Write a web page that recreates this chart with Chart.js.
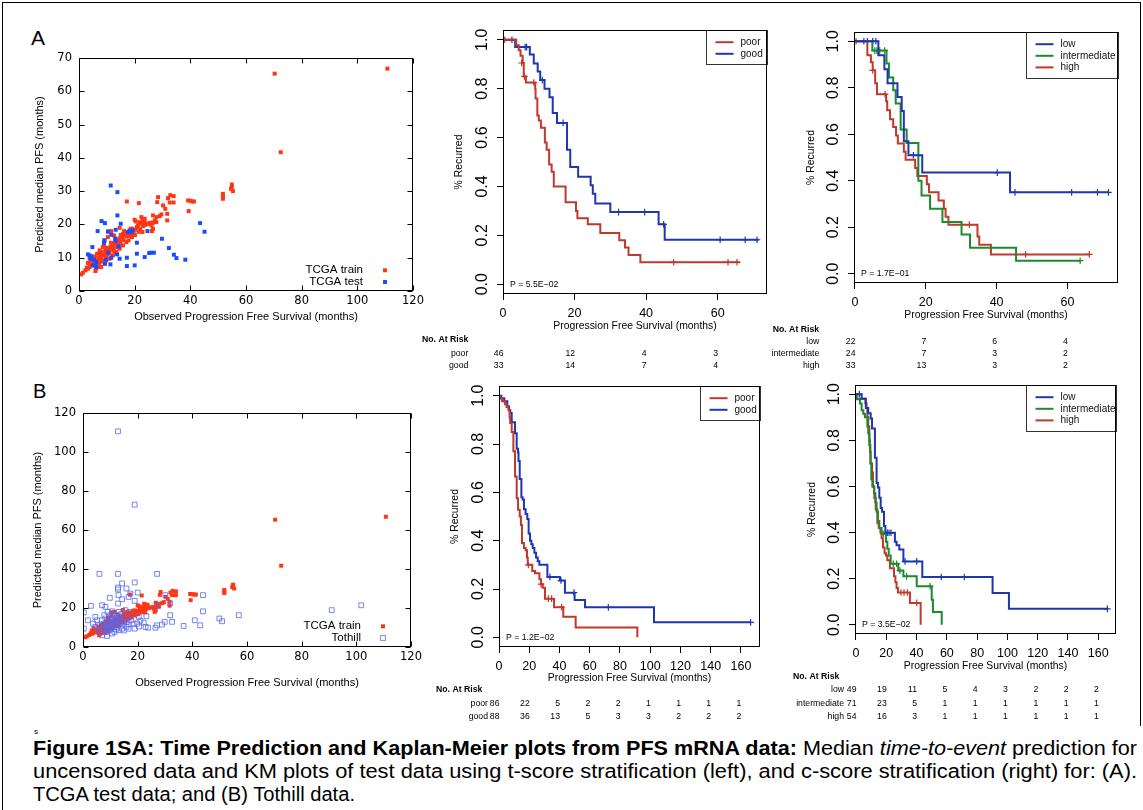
<!DOCTYPE html>
<html><head><meta charset="utf-8">
<script src="https://cdn.jsdelivr.net/npm/chart.js@4.4.1/dist/chart.umd.min.js"></script>
<style>
html,body{margin:0;padding:0;background:#fff;}
body{width:1143px;height:810px;position:relative;overflow:hidden;font-family:"Liberation Sans",Arial,sans-serif;}
canvas{position:absolute;}
.lbl{position:absolute;color:#000;white-space:nowrap;}
.cap{position:absolute;left:33px;white-space:nowrap;font-size:20px;line-height:23px;transform-origin:0 0;color:#000;display:inline-block;}
.ln{position:absolute;background:#000;}
</style></head><body>
<div class="ln" style="left:2px;top:2px;width:1139px;height:1px"></div>
<div class="ln" style="left:2px;top:2px;width:1px;height:808px"></div>
<div class="ln" style="left:1140px;top:2px;width:1px;height:724px"></div>
<div class="lbl" style="left:31px;top:27px;font-size:21px;line-height:21px">A</div>
<div class="lbl" style="left:33px;top:381px;font-size:20px;line-height:20px">B</div>
<div class="lbl" style="left:34px;top:727px;font-size:8px;line-height:9px">s</div>
<div class="cap" id="cap1" style="top:737px"><b>Figure 1SA: Time Prediction and Kaplan-Meier plots from PFS mRNA data:</b> Median <i>time-to-event</i> prediction for</div>
<div class="cap" id="cap2" style="top:760px">uncensored data and KM plots of test data using t-score stratification (left), and c-score stratification (right) for: (A).</div>
<div class="cap" id="cap3" style="top:783px">TCGA test data; and (B) Tothill data.</div>
<script>
// ================= DATA =================
// Scatter: TCGA train (observed PFS, predicted median PFS)
const trainObs = [70.3,110.8,72.5,54.9,54.9,54.6,55.3,51.7,51.7,51.7,39.2,40.0,40.7,41.3,39.4,34.0,32.8,34.0,32.6,32.0,31.7,31.7,31.0,30.2,28.4,28.1,17.2,21.5,29.0,29.6,27.8,26.6,27.2,26.6,26.0,26.6,26.2,27.8,24.8,23.6,22.9,22.4,23.6,20.0,20.4,21.8,22.7,21.2,
0.8,1.4,2.3,3.2,3.8,4.4,5.0,5.6,6.0,6.5,6.8,7.4,8.0,7.4,8.6,9.2,9.6,10.1,10.4,11.0,11.3,12.0,12.2,12.8,13.2,13.7,14.0,14.6,14.9,15.6,15.8,16.4,16.8,17.2,17.6,18.2,18.8,19.2,19.6,20.4,20.8,14.6,11.6,12.6,10.4,9.2,8.6,7.4,6.5,5.6,3.8,4.4,3.2,6.2,8.0,9.2,9.8,11.0,12.2,13.4,14.6,15.8,17.0,12.5,13.4,10.9,9.6,8.4,7.2,5.9,5.3,6.9,8.2,9.9,11.5,13.0,15.0,16.2,18.0,19.0,20.1,21.5,22.0,23.0,24.0,25.5,10.5,9.0,4.8,2.8,7.8,10.0,12.8,14.2,16.0,18.5,17.8,22.8];
const trainPred = [65.3,66.8,41.7,32.0,31.2,30.7,30.0,29.2,28.4,27.7,27.2,27.1,26.9,26.9,24.0,28.5,28.8,26.6,26.6,27.9,21.2,23.2,24.7,25.7,28.2,26.7,26.9,26.4,22.5,23.0,22.2,22.7,21.2,20.5,19.7,18.7,18.0,20.7,20.2,20.7,21.2,22.2,21.7,21.4,20.9,20.7,20.2,19.7,
5.0,5.5,6.2,6.7,7.2,7.7,8.2,7.7,8.7,9.2,7.2,9.7,10.2,11.2,10.7,11.2,12.2,11.7,12.7,12.2,13.2,13.7,12.7,14.2,14.7,13.7,15.2,15.7,14.7,16.2,17.2,16.7,17.7,16.4,17.2,18.2,17.2,18.7,17.7,18.4,19.2,19.0,18.0,16.7,16.2,15.2,13.2,12.2,11.2,10.4,9.7,9.0,8.4,6.7,7.2,8.2,9.2,9.7,10.7,11.7,12.7,13.7,14.7,12.2,13.2,11.2,10.2,9.2,8.4,6.0,9.0,10.0,11.8,13.0,14.5,15.8,16.8,18.0,16.6,16.2,16.8,17.8,18.6,19.5,19.9,20.5,17.8,14.0,8.4,7.0,8.8,10.8,11.2,14.0,15.3,18.7,15.2,17.7];
// Scatter: TCGA test
const testObs = [11.4,13.8,13.8,8.1,9.3,15.0,6.7,10.4,13.2,11.6,18.2,19.2,18.8,17.6,24.6,20.8,13.1,13.1,9.1,9.0,4.8,14.3,3.2,3.8,4.4,10.4,13.7,14.6,11.6,5.4,5.9,6.2,9.3,9.6,11.3,17.2,17.2,20.0,20.8,23.6,25.2,25.7,26.9,29.8,32.3,34.1,35.0,38.2,43.5,45.1,4.2,5.0,6.2];
const testPred = [31.7,29.7,22.7,21.0,20.4,20.2,18.0,17.9,18.4,16.9,18.0,18.2,17.7,17.7,18.0,14.5,15.7,15.0,15.2,14.5,13.2,13.4,11.0,10.7,10.4,11.5,11.0,9.7,10.0,9.4,7.7,7.2,8.2,9.4,8.0,10.0,7.5,7.7,11.2,10.2,11.4,11.5,11.5,15.7,12.9,10.9,9.9,9.4,20.4,17.8,9.7,7.7,8.7];
// Scatter: Tothill
const tothillObs = [12.8,18.9,6.0,12.8,27.1,18.9,12.8,12.8,15.9,14.3,20.0,17.3,13.0,16.7,9.8,14.3,18.9,2.9,7.0,8.2,12.8,10.6,0.3,1.8,4.5,3.7,0.3,4.5,6.0,7.6,7.0,9.0,10.2,11.5,14.3,16.7,18.9,19.8,20.4,22.2,23.2,22.9,23.8,26.5,27.1,28.9,27.1,30.1,31.9,31.9,36.8,40.9,42.9,43.9,43.9,49.9,50.9,57.0,91.0,101.8,29.9,32.6,13.7,15.5,17.3,8.2,9.0,10.0,11.5,12.4,15.9,17.7,18.5,7.0,5.7,8.5,9.4,10.6,7.8,11.2,12.4,12.4,13.7,14.9,15.9,16.7,5.1,6.3,9.4,8.8,10.6,13.0,9.5,10.5,11.0,12.0,13.5,14.5,10.0,8.0,9.0,11.8,12.5,14.0,10.8,9.8,7.5,13.0,16.0,15.0,20.5,21.0];
const tothillPred = [110.6,73.0,37.5,37.5,37.5,33.1,30.5,29.5,30.0,32.6,27.9,27.4,26.6,25.7,25.2,24.5,23.7,21.1,21.4,20.6,22.3,18.3,17.7,13.7,15.4,12.0,9.4,10.3,11.5,9.4,6.0,7.7,9.9,7.7,9.4,9.4,9.4,12.0,15.4,12.5,15.8,10.3,9.9,9.9,11.1,11.5,21.1,26.6,16.3,22.3,10.8,13.7,11.1,26.6,18.3,14.6,13.2,16.3,18.9,21.4,12.9,12.9,12.0,18.9,18.0,14.6,18.0,16.3,13.7,11.1,14.6,13.7,12.0,13.7,7.7,12.0,12.9,12.0,16.3,16.3,16.3,14.6,15.4,12.9,10.3,11.5,13.7,9.1,8.6,5.7,6.9,8.6,10.5,11.0,14.5,9.0,13.5,11.5,13.0,10.0,11.5,12.5,10.0,16.8,15.0,9.0,11.0,18.0,13.0,8.5,10.5,13.5];

// KM A, t-score: poor / good (time in months, survival after step)
const kmAPoorT = [0,3.7,4.4,4.9,5.5,5.8,6.4,9.0,9.1,9.6,10.0,10.6,11.7,12.2,12.9,13.6,14.2,17.5,20.4,20.8,23.7,27.2,32.5,34.1,35.1,38.4,66.3];
const kmAPoorS = [1,0.978,0.957,0.935,0.905,0.85,0.825,0.80,0.76,0.69,0.67,0.64,0.58,0.55,0.49,0.46,0.40,0.335,0.30,0.27,0.245,0.21,0.18,0.15,0.12,0.09,0.09];
const kmAPoorCT = [0.5,5.2,6.0,8.6,47.7,62.9,65.4];
const kmAPoorCS = [1,0.905,0.85,0.825,0.09,0.09,0.09];
const kmAGoodT = [0,3.4,7.5,8.6,9.7,10.4,11.6,13.0,13.9,15.1,17.9,18.8,21.0,24.5,25.1,25.8,30.0,43.5,45.2,71.5];
const kmAGoodS = [1,0.97,0.94,0.903,0.87,0.835,0.80,0.765,0.70,0.66,0.55,0.48,0.44,0.405,0.37,0.33,0.295,0.245,0.182,0.182];
const kmAGoodCT = [2.5,6.2,6.6,11.0,16.8,32.3,39.6,44.9,60.7,67.7,71.0];
const kmAGoodCS = [1,0.97,0.97,0.835,0.66,0.295,0.295,0.245,0.182,0.182,0.182];
// KM A, c-score: low / intermediate / high
const kmALowT = [0,6.6,8.3,9.2,12.0,13.2,13.8,15.1,19.0,43.8,71.6];
const kmALowS = [1,0.94,0.88,0.82,0.76,0.70,0.57,0.51,0.435,0.35,0.35];
const kmALowCT = [2.5,3.5,5.0,5.9,16.5,40.2,45.2,61.2,68.5,71.6];
const kmALowCS = [1,1,1,1,0.51,0.435,0.35,0.35,0.35,0.35];
const kmAIntT = [0,4.9,8.9,9.6,10.8,11.5,12.9,14.6,17.9,18.8,21.2,24.7,30.1,32.5,45.5,63.8];
const kmAIntS = [1,0.96,0.904,0.844,0.789,0.732,0.62,0.562,0.40,0.337,0.28,0.222,0.169,0.112,0.056,0.056];
const kmAIntCT = [5.6,6.2,7.0,8.4,63.6];
const kmAIntCS = [0.96,0.96,0.96,0.96,0.056];
const kmAHighT = [0,3.5,4.5,5.0,5.7,6.2,8.8,9.1,9.9,10.8,11.6,12.1,13.8,14.3,17.0,17.6,20.3,20.9,23.6,25.1,25.6,26.4,34.6,35.1,38.4,66.4];
const kmAHighS = [1,0.94,0.91,0.875,0.82,0.772,0.742,0.703,0.665,0.631,0.595,0.56,0.525,0.49,0.455,0.42,0.385,0.35,0.315,0.28,0.245,0.211,0.16,0.125,0.083,0.083];
const kmAHighCT = [0.3,5.0,8.5,32.3,48.2,66.2];
const kmAHighCS = [1,0.875,0.772,0.211,0.083,0.083];
// KM B, t-score: poor / good
const kmBPoorT = [0,0.5,2,4,5,6.2,7,7.4,8.4,9.5,10.6,11.7,12.6,13.7,14.5,15.2,16.5,17.6,18.5,19.0,22.0,23.8,26.7,27.8,28.9,30.4,36.4,42.5,50.7,91.5];
const kmBPoorS = [1,0.988,0.977,0.965,0.953,0.942,0.91,0.887,0.85,0.77,0.666,0.576,0.528,0.50,0.465,0.39,0.37,0.36,0.33,0.30,0.275,0.265,0.24,0.22,0.205,0.16,0.125,0.085,0.041,0];
const kmBPoorCT = [19.4,27.8,32.6,34.8,41.4];
const kmBPoorCS = [0.30,0.22,0.16,0.16,0.125];
const kmBGoodT = [0,1.5,3.5,5.5,6.6,7.5,8.4,10.6,11.7,12.6,12.9,13.7,14.8,15.6,16.5,17.6,18.7,19.6,20.5,21.4,22.3,23.4,24.5,25.6,26.7,32.0,40.3,43.6,50.0,56.9,102.5,166.4];
const kmBGoodS = [1,0.989,0.977,0.956,0.94,0.928,0.89,0.845,0.78,0.765,0.73,0.655,0.58,0.57,0.53,0.51,0.49,0.43,0.40,0.385,0.37,0.35,0.33,0.315,0.30,0.25,0.235,0.185,0.155,0.124,0.062,0.062];
const kmBGoodCT = [33.7,41.0,49.6,72.3,166.4];
const kmBGoodCS = [0.25,0.235,0.185,0.124,0.062];
// KM B, c-score: low / intermediate / high
const kmBLowT = [0,3.7,6.5,8.1,9.7,10.6,12.5,13.6,14.5,15.4,16.3,17.2,18.5,19.4,25.7,26.8,28.6,31.3,43.8,90.2,101.0,166.0];
const kmBLowS = [1,0.98,0.94,0.917,0.895,0.851,0.725,0.615,0.595,0.551,0.507,0.49,0.428,0.399,0.36,0.345,0.326,0.275,0.207,0.138,0.069,0.069];
const kmBLowCT = [2.2,20.7,21.8,23.1,32.4,40.1,56.3,71.5,166.0];
const kmBLowCS = [1,0.399,0.399,0.399,0.275,0.275,0.207,0.207,0.069];
const kmBIntT = [0,0.3,2.6,3.7,4.8,5.9,7.5,8.1,8.8,9.5,10.1,10.8,11.9,12.8,13.6,14.5,15.4,16.9,19.8,20.7,21.6,22.9,27.9,31.3,40.1,50.0,50.8,56.6];
const kmBIntS = [1,0.978,0.96,0.93,0.915,0.90,0.86,0.83,0.78,0.70,0.63,0.60,0.57,0.53,0.49,0.45,0.42,0.395,0.36,0.33,0.30,0.265,0.235,0.21,0.167,0.109,0.055,0];
const kmBIntCT = [18.0,24.6,26.8,29.0,33.4,48.9];
const kmBIntCS = [0.395,0.265,0.265,0.235,0.21,0.167];
const kmBHighT = [0,0.5,6.2,7.0,7.5,8.1,8.8,9.2,9.7,10.6,11.2,12.1,13.0,14.1,15.0,16.1,16.9,17.8,18.9,19.8,20.7,22.4,25.1,26.0,26.8,27.7,35.6,42.7];
const kmBHighS = [1,0.98,0.96,0.94,0.90,0.86,0.80,0.75,0.70,0.66,0.60,0.55,0.50,0.44,0.42,0.40,0.375,0.335,0.31,0.30,0.28,0.245,0.21,0.185,0.16,0.14,0.095,0];
const kmBHighCT = [29.7,31.7,33.9,40.1];
const kmBHighCS = [0.14,0.14,0.14,0.095];

// Numbers at risk
const riskATimes = [0,20,40,60];
const riskAPoor = [46,12,4,3];
const riskAGood = [33,14,7,4];
const riskALow = [22,7,6,4];
const riskAInt = [24,7,3,2];
const riskAHigh = [33,13,3,2];
const riskBTimes = [0,20,40,60,80,100,120,140,160];
const riskBPoor = [86,22,5,2,2,1,1,1,1];
const riskBGood = [88,36,13,5,3,3,2,2,2];
const riskBLow = [49,19,11,5,4,3,2,2,2];
const riskBInt = [71,23,5,1,1,1,1,1,1];
const riskBHigh = [54,16,3,1,1,1,1,1,1];

const pValues = ['P = 5.5E\u221202','P = 1.7E\u221201','P = 1.2E\u221202','P = 3.5E\u221202'];

// ================= DRAWING =================
const FONT = '"Liberation Sans", Arial, Helvetica, sans-serif';
const GFONT = '"DejaVu Sans", Verdana, sans-serif';
const C_RED = '#C0392B', C_BLUE = '#1E36B0', C_GREEN = '#1E8A2E';
const S_RED = '#FF3514', S_BLUE = '#1A4CFF';

function sizeFix(size){
  return function(s){
    if (s.isHorizontal()) s.height = size; else s.width = size;
    s.paddingLeft = 0; s.paddingRight = 0; s.paddingTop = 0; s.paddingBottom = 0;
  };
}
function makeCanvas(r){
  const c = document.createElement('canvas');
  c.width = r.w; c.height = r.h;
  c.style.left = r.x + 'px'; c.style.top = r.y + 'px';
  c.style.width = r.w + 'px'; c.style.height = r.h + 'px';
  document.body.appendChild(c);
  return c;
}
function pts(xs, ys){ return xs.map((x,i)=>({x:x, y:ys[i]})); }

function framePlugin(inTick){
  return { id:'frame', afterDraw(chart){
    const ctx = chart.ctx, a = chart.chartArea;
    const L = Math.round(a.left)+0.5, T = Math.round(a.top)+0.5, R = Math.round(a.right)-0.5, B = Math.round(a.bottom)-0.5;
    ctx.save(); ctx.strokeStyle = '#000'; ctx.lineWidth = 1;
    ctx.strokeRect(L, T, R-L, B-T);
    if (inTick){
      const xs = chart.scales.x, ys = chart.scales.y;
      ctx.beginPath();
      xs.ticks.forEach(t=>{ const p = Math.round(xs.getPixelForValue(t.value))+0.5; ctx.moveTo(p,B); ctx.lineTo(p,B-inTick); ctx.moveTo(p,T); ctx.lineTo(p,T+inTick); });
      ys.ticks.forEach(t=>{ const p = Math.round(ys.getPixelForValue(t.value))+0.5; ctx.moveTo(L,p); ctx.lineTo(L+inTick,p); ctx.moveTo(R,p); ctx.lineTo(R-inTick,p); });
      ctx.stroke();
    }
    ctx.restore();
  }};
}

function scatLegendPlugin(){
  return { id:'scatLegend', afterDraw(chart){
    const ctx = chart.ctx, a = chart.chartArea;
    ctx.save();
    ctx.font = '11.5px ' + FONT; ctx.textBaseline = 'middle'; ctx.textAlign = 'right';
    chart.data.datasets.forEach((d,i)=>{
      const y = a.bottom - 20.7 + 11.7*i;
      ctx.fillStyle = '#000';
      ctx.fillText(d.label, a.right - 50, y);
      const r = d.pointRadius * Math.SQRT1_2, mx = a.right - 28;
      if (d.borderWidth === 0){ ctx.fillStyle = d.backgroundColor; ctx.fillRect(mx-r, y-r, 2*r, 2*r); }
      else { ctx.strokeStyle = d.borderColor; ctx.lineWidth = d.borderWidth; ctx.strokeRect(mx-r, y-r, 2*r, 2*r); }
    });
    ctx.restore();
  }};
}

function kmLegendPlugin(w, h, p){
  return { id:'kmLegend', afterDatasetsDraw(chart){
    const ctx = chart.ctx, a = chart.chartArea;
    const items = chart.data.datasets.filter(d=>d.isCurve);
    const x0 = Math.round(a.right - w) + 0.5, y0 = Math.round(a.top) + 0.5;
    ctx.save();
    ctx.fillStyle = '#fff'; ctx.fillRect(x0, y0, w, h);
    ctx.strokeStyle = '#333'; ctx.lineWidth = 1; ctx.strokeRect(x0, y0, w, h);
    ctx.font = '10px ' + FONT; ctx.textBaseline = 'middle'; ctx.textAlign = 'left';
    items.forEach((d,i)=>{
      const y = a.top + 12.2 + 11.6*i;
      ctx.strokeStyle = d.borderColor; ctx.lineWidth = 2;
      ctx.beginPath(); ctx.moveTo(x0+9, y); ctx.lineTo(x0+27, y); ctx.stroke();
      ctx.fillStyle = '#111'; ctx.fillText(d.label, x0+34, y);
    });
    ctx.font = '8.7px ' + FONT; ctx.fillStyle = '#000';
    ctx.fillText(p, a.left + 7, chart.scales.y.getPixelForValue(0));
    ctx.restore();
  }};
}

function riskPlugin(risk, rect){
  return { id:'risk', afterDraw(chart){
    const ctx = chart.ctx, xs = chart.scales.x;
    ctx.save(); ctx.fillStyle = '#000'; ctx.textBaseline = 'middle';
    ctx.font = 'bold 8.7px ' + FONT; ctx.textAlign = 'left';
    ctx.fillText('No. At Risk', risk.headerX - rect.x, risk.headerY - rect.y);
    ctx.font = '8.7px ' + FONT; ctx.textAlign = 'right';
    risk.rows.forEach((r,i)=>{
      const y = risk.rowY[i] - rect.y;
      ctx.fillText(r.label, risk.labelRight - rect.x, y);
      risk.times.forEach((t,j)=>{ ctx.fillText(String(r.values[j]), xs.getPixelForValue(t) + 0.5, y); });
    });
    ctx.restore();
  }};
}

function scatterChart(cfg){
  const {rect, area, ymax, ystep, datasets, yTitleX, xTitleY} = cfg;
  const canvas = makeCanvas(rect);
  const xH = rect.y + rect.h - area.B, yW = area.L - rect.x;
  const tf = 11, tlh = tf*1.2;
  new Chart(canvas, {
    type:'scatter',
    data:{datasets},
    options:{
      responsive:false, animation:false, devicePixelRatio:1, events:[],
      layout:{padding:{left:0, top:area.T-rect.y, right:rect.x+rect.w-area.R, bottom:0}},
      scales:{
        x:{type:'linear', min:0, max:120, afterFit:sizeFix(xH),
          ticks:{stepSize:20, includeBounds:false, autoSkip:false, maxRotation:0, font:{family:GFONT,size:11.5}, color:'#000', padding:3.5},
          grid:{display:false, drawTicks:false}, border:{display:false},
          title:{display:true, text:'Observed Progression Free Survival (months)', color:'#000', font:{family:FONT,size:tf}, padding:{top:0,bottom:rect.y+rect.h-xTitleY-tlh/2}}},
        y:{type:'linear', min:0, max:ymax, afterFit:sizeFix(yW),
          ticks:{stepSize:ystep, includeBounds:false, autoSkip:false, font:{family:GFONT,size:11.5}, color:'#000', padding:7},
          grid:{display:false, drawTicks:false}, border:{display:false},
          title:{display:true, text:'Predicted median PFS (months)', color:'#000', font:{family:FONT,size:tf}, padding:{top:yTitleX-rect.x-tlh/2,bottom:0}}}
      },
      plugins:{legend:{display:false}, tooltip:{enabled:false}}
    },
    plugins:[framePlugin(5), scatLegendPlugin()]
  });
}

function kmChart(cfg){
  const {rect, area, xmin, xmax, curves, p, legW, legH, yTitleX, xTitleY, risk} = cfg;
  const canvas = makeCanvas(rect);
  const datasets = [];
  curves.forEach(c=>{
    datasets.push({label:c.label, isCurve:true, data:pts(c.t,c.s), showLine:true, stepped:true, borderColor:c.color, backgroundColor:c.color, borderWidth:2, pointRadius:0, fill:false});
  });
  curves.forEach(c=>{
    datasets.push({label:c.label+' (censored)', data:pts(c.ct,c.cs), showLine:false, pointStyle:'cross', pointRadius:3.3, borderColor:c.color, backgroundColor:c.color, borderWidth:1.2});
  });
  const xH = rect.y + rect.h - area.B, yW = area.L - rect.x;
  const tf = 10.4, tlh = tf*1.2;
  const gridOpt = {display:true, drawOnChartArea:false, drawTicks:true, tickLength:6, color:'#000', lineWidth:1};
  new Chart(canvas, {
    type:'scatter',
    data:{datasets},
    options:{
      responsive:false, animation:false, devicePixelRatio:1, events:[],
      layout:{padding:{left:0, top:area.T-rect.y, right:rect.x+rect.w-area.R, bottom:0}},
      scales:{
        x:{type:'linear', min:xmin, max:xmax, afterFit:sizeFix(xH),
          ticks:{stepSize:20, includeBounds:false, autoSkip:false, maxRotation:0, font:{family:FONT,size:12.5}, color:'#000', padding:6.5},
          grid:gridOpt, border:{display:false},
          title:{display:true, text:'Progression Free Survival (months)', color:'#000', font:{family:FONT,size:tf}, padding:{top:0,bottom:rect.y+rect.h-xTitleY-tlh/2}}},
        y:{type:'linear', min:-0.04, max:1.04, afterFit:sizeFix(yW),
          ticks:{stepSize:0.2, includeBounds:false, autoSkip:false, minRotation:90, maxRotation:90, crossAlign:'center', font:{family:FONT,size:16}, color:'#000', padding:3.2, callback:v=>v.toFixed(1)},
          grid:gridOpt, border:{display:false},
          title:{display:true, text:'% Recurred', color:'#000', font:{family:FONT,size:tf}, padding:{top:yTitleX-rect.x-tlh/2,bottom:0}}}
      },
      plugins:{legend:{display:false}, tooltip:{enabled:false}}
    },
    plugins:[kmLegendPlugin(legW, legH, p), framePlugin(0), riskPlugin(risk, rect)]
  });
}

// ---- Panel A scatter
scatterChart({
  rect:{x:20,y:40,w:420,h:290}, area:{L:79,T:58,R:413,B:291}, ymax:70, ystep:10, yTitleX:40, xTitleY:317,
  datasets:[
    {label:'TCGA train', data:pts(trainObs,trainPred), pointStyle:'rect', pointRadius:2.8, backgroundColor:S_RED, borderColor:S_RED, borderWidth:0, order:2},
    {label:'TCGA test', data:pts(testObs,testPred), pointStyle:'rect', pointRadius:2.8, backgroundColor:S_BLUE, borderColor:S_BLUE, borderWidth:0, order:1}
  ]
});
// ---- Panel B scatter
scatterChart({
  rect:{x:20,y:398,w:420,h:300}, area:{L:83,T:413,R:411,B:647}, ymax:120, ystep:20, yTitleX:38, xTitleY:683,
  datasets:[
    {label:'TCGA train', data:pts(trainObs,trainPred), pointStyle:'rect', pointRadius:2.8, backgroundColor:S_RED, borderColor:S_RED, borderWidth:0, order:2},
    {label:'Tothill', data:pts(tothillObs,tothillPred), pointStyle:'rect', pointRadius:3.4, backgroundColor:'rgba(0,0,0,0)', borderColor:'rgba(85,105,240,0.8)', borderWidth:1, order:1}
  ]
});
// ---- KM A t-score
kmChart({
  rect:{x:415,y:22,w:365,h:352}, area:{L:503,T:30,R:767,B:294}, xmin:0, xmax:73.8, p:pValues[0], legW:61, legH:34, yTitleX:459, xTitleY:326,
  curves:[
    {label:'poor', color:C_RED, t:kmAPoorT, s:kmAPoorS, ct:kmAPoorCT, cs:kmAPoorCS},
    {label:'good', color:C_BLUE, t:kmAGoodT, s:kmAGoodS, ct:kmAGoodCT, cs:kmAGoodCS}
  ],
  risk:{times:riskATimes, headerX:422, headerY:340, labelRight:468.3, rowY:[353.3,365.3],
    rows:[{label:'poor', values:riskAPoor},{label:'good', values:riskAGood}]}
});
// ---- KM A c-score
kmChart({
  rect:{x:765,y:22,w:375,h:352}, area:{L:854,T:32,R:1118,B:283}, xmin:-0.28, xmax:74.3, p:pValues[1], legW:92, legH:46, yTitleX:810.7, xTitleY:315,
  curves:[
    {label:'low', color:C_BLUE, t:kmALowT, s:kmALowS, ct:kmALowCT, cs:kmALowCS},
    {label:'intermediate', color:C_GREEN, t:kmAIntT, s:kmAIntS, ct:kmAIntCT, cs:kmAIntCS},
    {label:'high', color:C_RED, t:kmAHighT, s:kmAHighS, ct:kmAHighCT, cs:kmAHighCS}
  ],
  risk:{times:riskATimes, headerX:772.7, headerY:329.7, labelRight:819.3, rowY:[341.3,353.6,366],
    rows:[{label:'low', values:riskALow},{label:'intermediate', values:riskAInt},{label:'high', values:riskAHigh}]}
});
// ---- KM B t-score
kmChart({
  rect:{x:415,y:378,w:365,h:344}, area:{L:499,T:386,R:760,B:647}, xmin:0, xmax:172.6, p:pValues[2], legW:60, legH:34, yTitleX:455, xTitleY:678,
  curves:[
    {label:'poor', color:C_RED, t:kmBPoorT, s:kmBPoorS, ct:kmBPoorCT, cs:kmBPoorCS},
    {label:'good', color:C_BLUE, t:kmBGoodT, s:kmBGoodS, ct:kmBGoodCT, cs:kmBGoodCS}
  ],
  risk:{times:riskBTimes, headerX:436, headerY:690, labelRight:488, rowY:[704,717],
    rows:[{label:'poor', values:riskBPoor},{label:'good', values:riskBGood}]}
});
// ---- KM B c-score
kmChart({
  rect:{x:765,y:378,w:375,h:344}, area:{L:855,T:385,R:1116,B:634}, xmin:-0.66, xmax:171.7, p:pValues[3], legW:90, legH:46, yTitleX:811.7, xTitleY:665.7,
  curves:[
    {label:'low', color:C_BLUE, t:kmBLowT, s:kmBLowS, ct:kmBLowCT, cs:kmBLowCS},
    {label:'intermediate', color:C_GREEN, t:kmBIntT, s:kmBIntS, ct:kmBIntCT, cs:kmBIntCS},
    {label:'high', color:C_RED, t:kmBHighT, s:kmBHighS, ct:kmBHighCT, cs:kmBHighCS}
  ],
  risk:{times:riskBTimes, headerX:793, headerY:677, labelRight:844, rowY:[690,704,717],
    rows:[{label:'low', values:riskBLow},{label:'intermediate', values:riskBInt},{label:'high', values:riskBHigh}]}
});

// caption fit
[['cap1',1104],['cap2',1104],['cap3',322]].forEach(([id,w])=>{
  const el = document.getElementById(id);
  const cw = el.getBoundingClientRect().width;
  el.style.transform = 'scaleX(' + (w/cw) + ')';
});
</script>
</body></html>
